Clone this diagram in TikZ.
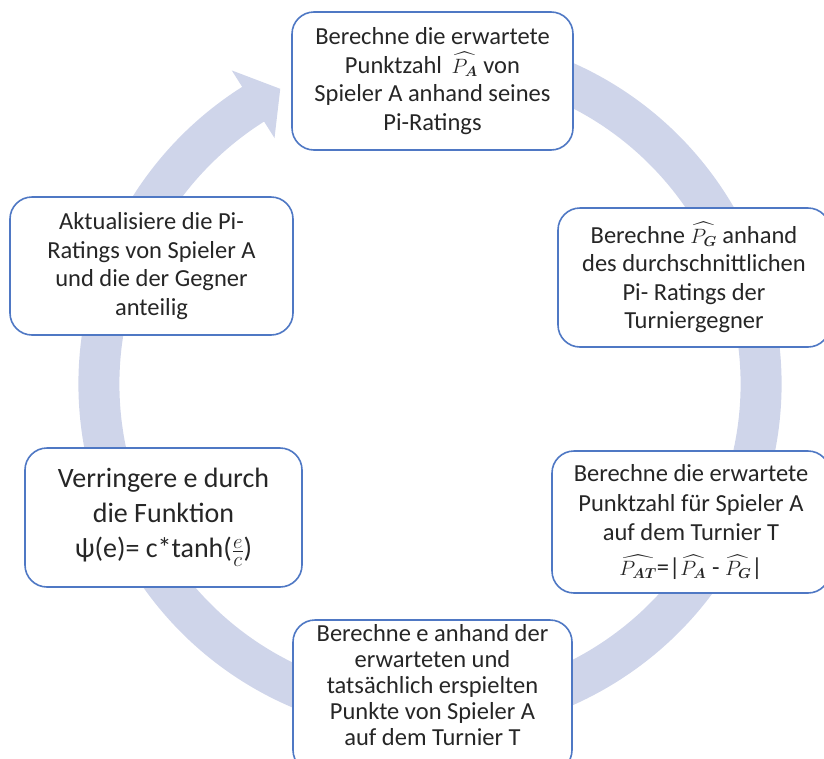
\documentclass[tikz,border=0pt]{standalone}
\usepackage{amsmath}
\usepackage{fontspec}
\setmainfont{Carlito}
\definecolor{ringc}{HTML}{CFD5EA}
\definecolor{boxc}{HTML}{4F78C4}
\definecolor{txt}{HTML}{262626}
\newcommand{\ph}[1]{{\fontsize{21}{21}\selectfont$\widehat{P_{\boldsymbol{#1}}}$}}
\begin{document}
\begin{tikzpicture}[x=1pt,y=-1pt,
  box/.style={draw=boxc, line width=1.6pt, fill=white, rounded corners=22pt, align=center,
              text=txt, inner sep=0pt, font=\fontsize{24.5}{28.5}\selectfont},
  lbl/.style={align=center, text=txt, inner sep=0pt, font=\fontsize{24.5}{26.2}\selectfont}]
\useasboundingbox (0,0) rectangle (824,758);
\clip (0,0) rectangle (824,758);
\coordinate (c) at (430,384);
% ring arrow
\draw[ringc, line width=41pt] ([shift={(-70:331)}]c) arc[start angle=-70, end angle=238, radius=331];
\fill[ringc] ([shift={(237.7:371)}]c) -- ([shift={(243.1:331)}]c) -- ([shift={(237.7:291)}]c) -- cycle;
% boxes
\node[box, minimum width=281pt, minimum height=138pt] (n1) at (432.5,81)
  {Berechne die erwartete\\Punktzahl \,\ph{A} von\\Spieler A anhand seines\\Pi-Ratings};
\node[box, minimum width=272pt, minimum height=139pt] (n2) at (694,277.5)
  {Berechne \ph{G} anhand\\des durchschnittlichen\\Pi- Ratings der\\Turniergegner};
\node[box, minimum width=278pt, minimum height=142pt, font=\fontsize{24.5}{29.5}\selectfont] (n3) at (691,522)
  {Berechne die erwartete\\Punktzahl für Spieler A\\auf dem Turnier T\\[5pt]\ph{AT}=|\ph{A} - \ph{G}|};
\node[box, minimum width=279pt, minimum height=152pt] (n4) at (432.5,696) {};
\node[lbl] (t4) at (432.5,685)
  {Berechne e anhand der\\erwarteten und\\tatsächlich erspielten\\Punkte von Spieler A\\auf dem Turnier T};
\node[box, minimum width=277pt, minimum height=139pt, font=\fontsize{28}{35}\selectfont] (n5) at (163.5,517.5)
  {Verringere e durch\\die Funktion\\ψ(e)= c*tanh($\frac{e}{c}$)};
\node[box, minimum width=283pt, minimum height=138pt] (n6) at (151.5,266)
  {Aktualisiere die Pi-\\Ratings von Spieler A\\und die der Gegner\\anteilig};
\end{tikzpicture}
\end{document}
